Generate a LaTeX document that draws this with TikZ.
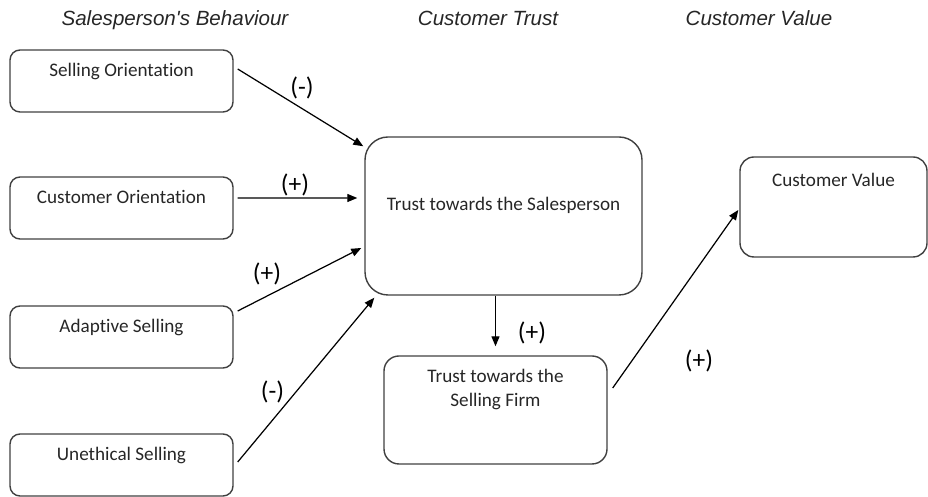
\documentclass[tikz,border=0pt]{standalone}
\usepackage{fontspec}
\setmainfont{Carlito}[Ligatures=NoCommon]
\newfontfamily\headfont{Liberation Sans}
\usetikzlibrary{arrows.meta}
\definecolor{boxline}{RGB}{64,64,64}
\definecolor{boxtext}{RGB}{38,38,38}
\tikzset{
  factor/.style={draw=boxline,line width=0.8pt,rounded corners=0.2cm,inner sep=0pt,
    text=boxtext,font=\fontsize{10.9}{13.1}\selectfont,align=center},
  smallbox/.style={factor,minimum width=4.46cm,minimum height=1.24cm,text height=0.54cm,text depth=0.70cm},
  link/.style={line width=0.7pt,-{Triangle[length=0.2cm,width=0.16cm]}},
  sign/.style={font=\fontsize{14.5}{16}\selectfont},
  heading/.style={font=\headfont\itshape\fontsize{11.7}{14}\selectfont,text=boxtext,anchor=base}
}
\begin{document}
\begin{tikzpicture}
\useasboundingbox (0,0) rectangle (18.56,9.94);

%%% HEADINGS %%%
\node [heading] at (3.5,9.43) (h_behaviour) {Salesperson's Behaviour};
\node [heading] at (9.76,9.43) (h_trust) {Customer Trust};
\node [heading] at (15.18,9.43) (h_value) {Customer Value};

%%% BEHAVIOUR %%%
\node [smallbox] at (2.43,8.32) (so) {Selling Orientation};
\node [smallbox] at (2.43,5.78) (co) {Customer Orientation};
\node [smallbox] at (2.43,3.20) (as) {Adaptive Selling};
\node [smallbox] at (2.43,0.64) (us) {Unethical Selling};

%%% TRUST AND VALUE %%%
\node [factor,rounded corners=0.46cm,minimum width=5.54cm,minimum height=3.16cm,
  text height=1.48cm,text depth=1.68cm] at (10.07,5.62) (tsp) {Trust towards the Salesperson};
\node [factor,align=flush center,rounded corners=0.3cm,text width=4.46cm,minimum height=2.16cm,
  text height=0.54cm,text depth=1.62cm] at (9.91,1.74) (tsf) {Trust towards the\\Selling Firm};
\node [factor,rounded corners=0.28cm,minimum width=3.74cm,minimum height=2cm,
  text height=0.6cm,text depth=1.4cm] at (16.67,5.80) (cv) {Customer Value};

%%% LINKS %%%
\draw [link] ([shift={(0.08,0.24)}]so.east) -- ([shift={(-0.02,-0.2)}]tsp.north west);
\draw [link] ([shift={(0.08,0.2)}]co.east) -- ([shift={(-0.14,0.36)}]tsp.west);
\draw [link] ([shift={(0.08,0.52)}]as.east) -- ([shift={(-0.06,-0.64)}]tsp.west);
\draw [link] ([shift={(0.08,0.06)}]us.east) -- ([shift={(0.2,-0.04)}]tsp.south west);
\draw [link] (tsp.south -| tsf.north) -- ([yshift=0.18cm]tsf.north);
\draw [link] ([shift={(0.1,0.44)}]tsf.east) -- ([shift={(-0.02,-0.06)}]cv.west);

%%% SIGNS %%%
\node [sign] at (6.04,8.18) (s_so) {(-)};
\node [sign] at (5.90,6.25) (s_co) {(+)};
\node [sign] at (5.34,4.46) (s_as) {(+)};
\node [sign] at (5.45,2.10) (s_us) {(-)};
\node [sign] at (10.64,3.28) (s_tsf) {(+)};
\node [sign] at (13.98,2.72) (s_cv) {(+)};
\end{tikzpicture}
\end{document}
